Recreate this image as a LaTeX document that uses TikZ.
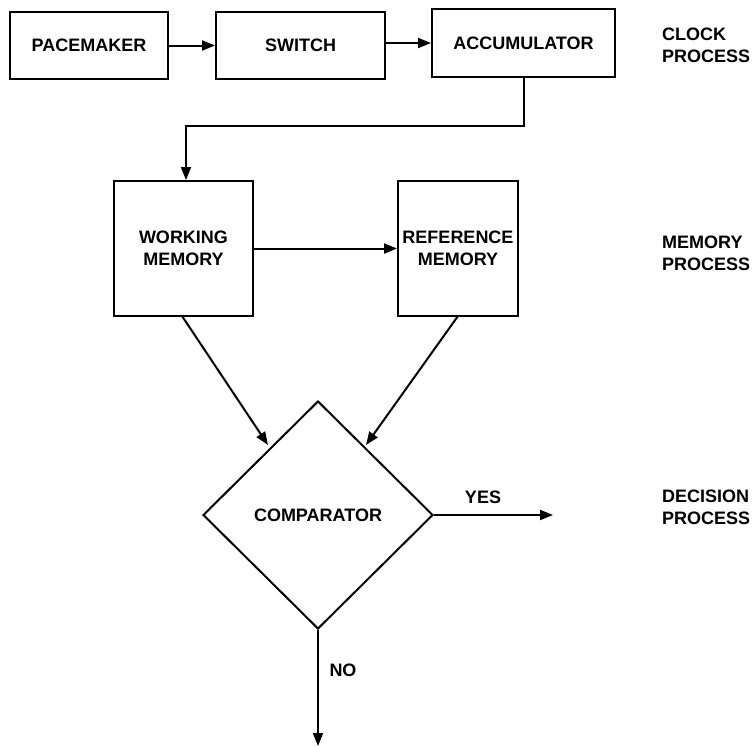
\documentclass[tikz,border=0pt]{standalone}
\usepackage{fontspec}
\setmainfont{Liberation Sans}
\usetikzlibrary{arrows.meta,shapes.geometric}
\begin{document}
\begin{tikzpicture}[x=1pt,y=-1pt,
  every node/.style={font=\bfseries\fontsize{18}{22}\selectfont, align=center, inner sep=0pt},
  boxnode/.style={draw, line width=2pt},
  lbl/.style={align=left, anchor=west},
  conn/.style={line width=2pt, -{Triangle[length=13pt,width=10pt]}},
  plain/.style={line width=2pt}]
\useasboundingbox (0,0) rectangle (756,747);
\node[boxnode, minimum width=158pt, minimum height=67pt] (pace) at (89,45.5) {PACEMAKER};
\node[boxnode, minimum width=169pt, minimum height=67pt] (switch) at (300.5,45.5) {SWITCH};
\node[boxnode, minimum width=183pt, minimum height=68pt] (acc) at (523.5,43) {ACCUMULATOR};
\node[boxnode, minimum width=139pt, minimum height=135pt] (wm) at (183.5,248.5) {WORKING\\MEMORY};
\node[boxnode, minimum width=120pt, minimum height=135pt] (rm) at (458,248.5) {REFERENCE\\MEMORY};
\node[draw, line width=2pt, diamond, minimum width=230pt, minimum height=228pt, aspect=1] (comp) at (318,515) {COMPARATOR};
\coordinate (yesend) at (553,515);
\coordinate (noend) at (318,746);
\node[lbl] (clock) at (662,45) {CLOCK\\PROCESS};
\node[lbl] (mem) at (662,253) {MEMORY\\PROCESS};
\node[lbl] (dec) at (662,507) {DECISION\\PROCESS};
\node (yes) at (483,497) {YES};
\node (no) at (343,670) {NO};
\draw[conn] (pace.east) -- (switch.west);
\draw[conn] (switch.east |- acc.west) -- (acc.west);
\draw[conn] (acc.south -| 524,0) -- (524,126) -- (186,126) -- (186,0 |- wm.north);
\draw[conn] (wm.east) -- (rm.west);
\draw[conn] (182,316) -- (268,445);
\draw[conn] (458,316) -- (366,445);
\draw[conn] (comp.east) -- (yesend);
\draw[conn] (comp.south) -- (noend);
\end{tikzpicture}
\end{document}
